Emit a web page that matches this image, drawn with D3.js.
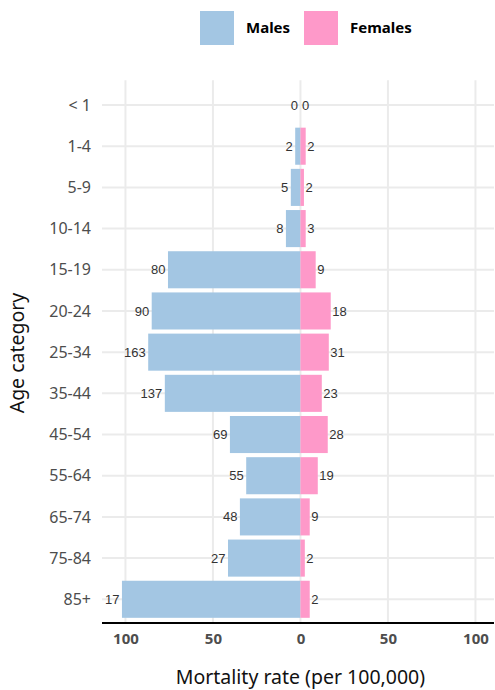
<!DOCTYPE html>
<html>
<head>
<meta charset="utf-8">
<script src="https://cdn.jsdelivr.net/npm/d3@7"></script>
<style>
  body { margin: 0; background: #fff; }
  svg { display: block; }
</style>
</head>
<body>
<div id="chart"></div>
<script>
const ages = ['< 1', '1-4', '5-9', '10-14', '15-19', '20-24', '25-34', '35-44', '45-54', '55-64', '65-74', '75-84', '85+']
const maleRate = [0, 3, 5.5, 8.3, 75.7, 85, 87, 77.5, 40.3, 31, 34.6, 41.4, 102]
const femaleRate = [0, 3, 2, 3, 8.7, 17.3, 16.2, 12.2, 15.6, 9.9, 5.3, 2.5, 5.3]
const maleCount = [0, 2, 5, 8, 80, 90, 163, 137, 69, 55, 48, 27, 17]
const femaleCount = [0, 2, 2, 3, 9, 18, 31, 23, 28, 19, 9, 2, 2]
const xTicks = [-100, -50, 0, 50, 100]

const width = 495
const height = 690
const male = '#a3c6e3'
const female = '#fe99c9'

const svg = d3.select('#chart').append('svg')
  .attr('width', width)
  .attr('height', height)

const x = d3.scaleLinear().domain([-113.4, 110.6]).range([102, 494])
// 0.6 band expansion top and bottom, like ggplot's discrete axis
const y = d3.scaleBand().domain(ages).range([80.3, 624]).paddingInner(0.1).paddingOuter(0.15)
const yc = d => y(d) + y.bandwidth() / 2

// gridlines
svg.append('g').selectAll('line')
  .data(xTicks)
  .enter().append('line')
  .attr('x1', d => x(d)).attr('x2', d => x(d))
  .attr('y1', 80.3).attr('y2', 624)
  .attr('stroke', '#ebebeb').attr('stroke-width', 2)

svg.append('g').selectAll('line')
  .data(ages)
  .enter().append('line')
  .attr('x1', 102).attr('x2', 494)
  .attr('y1', d => yc(d)).attr('y2', d => yc(d))
  .attr('stroke', '#ebebeb').attr('stroke-width', 2)

// bars
const rows = ages.map((a, i) => ({ age: a, m: maleRate[i], f: femaleRate[i], mc: maleCount[i], fc: femaleCount[i] }))

svg.append('g').selectAll('rect')
  .data(rows)
  .enter().append('rect')
  .attr('x', d => x(-d.m))
  .attr('y', d => y(d.age))
  .attr('width', d => x(0) - x(-d.m))
  .attr('height', y.bandwidth())
  .attr('fill', male)

svg.append('g').selectAll('rect')
  .data(rows)
  .enter().append('rect')
  .attr('x', x(0))
  .attr('y', d => y(d.age))
  .attr('width', d => x(d.f) - x(0))
  .attr('height', y.bandwidth())
  .attr('fill', female)

// value labels
svg.append('g').selectAll('text')
  .data(rows)
  .enter().append('text')
  .attr('x', d => x(-d.m) - 2.5)
  .attr('y', d => yc(d.age))
  .attr('dy', '0.35em')
  .attr('text-anchor', 'end')
  .style('font-family', '"Liberation Sans", Arial, sans-serif')
  .style('font-size', '13px')
  .attr('fill', '#333')
  .text(d => d.mc)

svg.append('g').selectAll('text')
  .data(rows)
  .enter().append('text')
  .attr('x', d => x(d.f) + 1.5)
  .attr('y', d => yc(d.age))
  .attr('dy', '0.35em')
  .attr('text-anchor', 'start')
  .style('font-family', '"Liberation Sans", Arial, sans-serif')
  .style('font-size', '13px')
  .attr('fill', '#333')
  .text(d => d.fc)

// y axis labels
svg.append('g').selectAll('text')
  .data(ages)
  .enter().append('text')
  .attr('x', 91)
  .attr('y', d => yc(d))
  .attr('dy', '0.35em')
  .attr('text-anchor', 'end')
  .style('font-family', '"Noto Sans", "Open Sans", sans-serif')
  .style('font-size', '16px')
  .attr('fill', '#4d4d4d')
  .text(d => d)

// x axis
const xAxis = svg.append('g')
  .attr('transform', 'translate(0,623)')
  .call(d3.axisBottom(x).tickValues(xTicks).tickSize(0).tickPadding(10).tickFormat(d => Math.abs(d)))
xAxis.select('.domain').attr('stroke', '#000').attr('stroke-width', 2.2)
  .attr('d', 'M102,0H494')
xAxis.selectAll('text')
  .style('font-family', '"Noto Sans", "Open Sans", sans-serif')
  .style('font-size', '15px')
  .style('font-weight', 'bold')
  .attr('fill', '#4d4d4d')

// axis titles
svg.append('text')
  .attr('x', x(0))
  .attr('y', 684)
  .attr('text-anchor', 'middle')
  .style('font-family', '"Noto Sans", "Open Sans", sans-serif')
  .style('font-size', '19.5px')
  .attr('fill', '#111')
  .text('Mortality rate (per 100,000)')

svg.append('text')
  .attr('transform', 'translate(24,353) rotate(-90)')
  .attr('text-anchor', 'middle')
  .style('font-family', '"Noto Sans", "Open Sans", sans-serif')
  .style('font-size', '19.5px')
  .attr('fill', '#111')
  .text('Age category')

// legend
const legend = [{ name: 'Males', color: male, x: 200 }, { name: 'Females', color: female, x: 304 }]
const lg = svg.append('g').selectAll('g')
  .data(legend)
  .enter().append('g')
  .attr('transform', d => `translate(${d.x},11)`)
lg.append('rect')
  .attr('width', 34).attr('height', 34)
  .attr('fill', d => d.color)
lg.append('text')
  .attr('x', 46).attr('y', 17)
  .attr('dy', '0.35em')
  .style('font-family', '"Noto Sans", "Open Sans", sans-serif')
  .style('font-size', '15px')
  .style('font-weight', 'bold')
  .attr('fill', '#000')
  .text(d => d.name)
</script>
</body>
</html>
